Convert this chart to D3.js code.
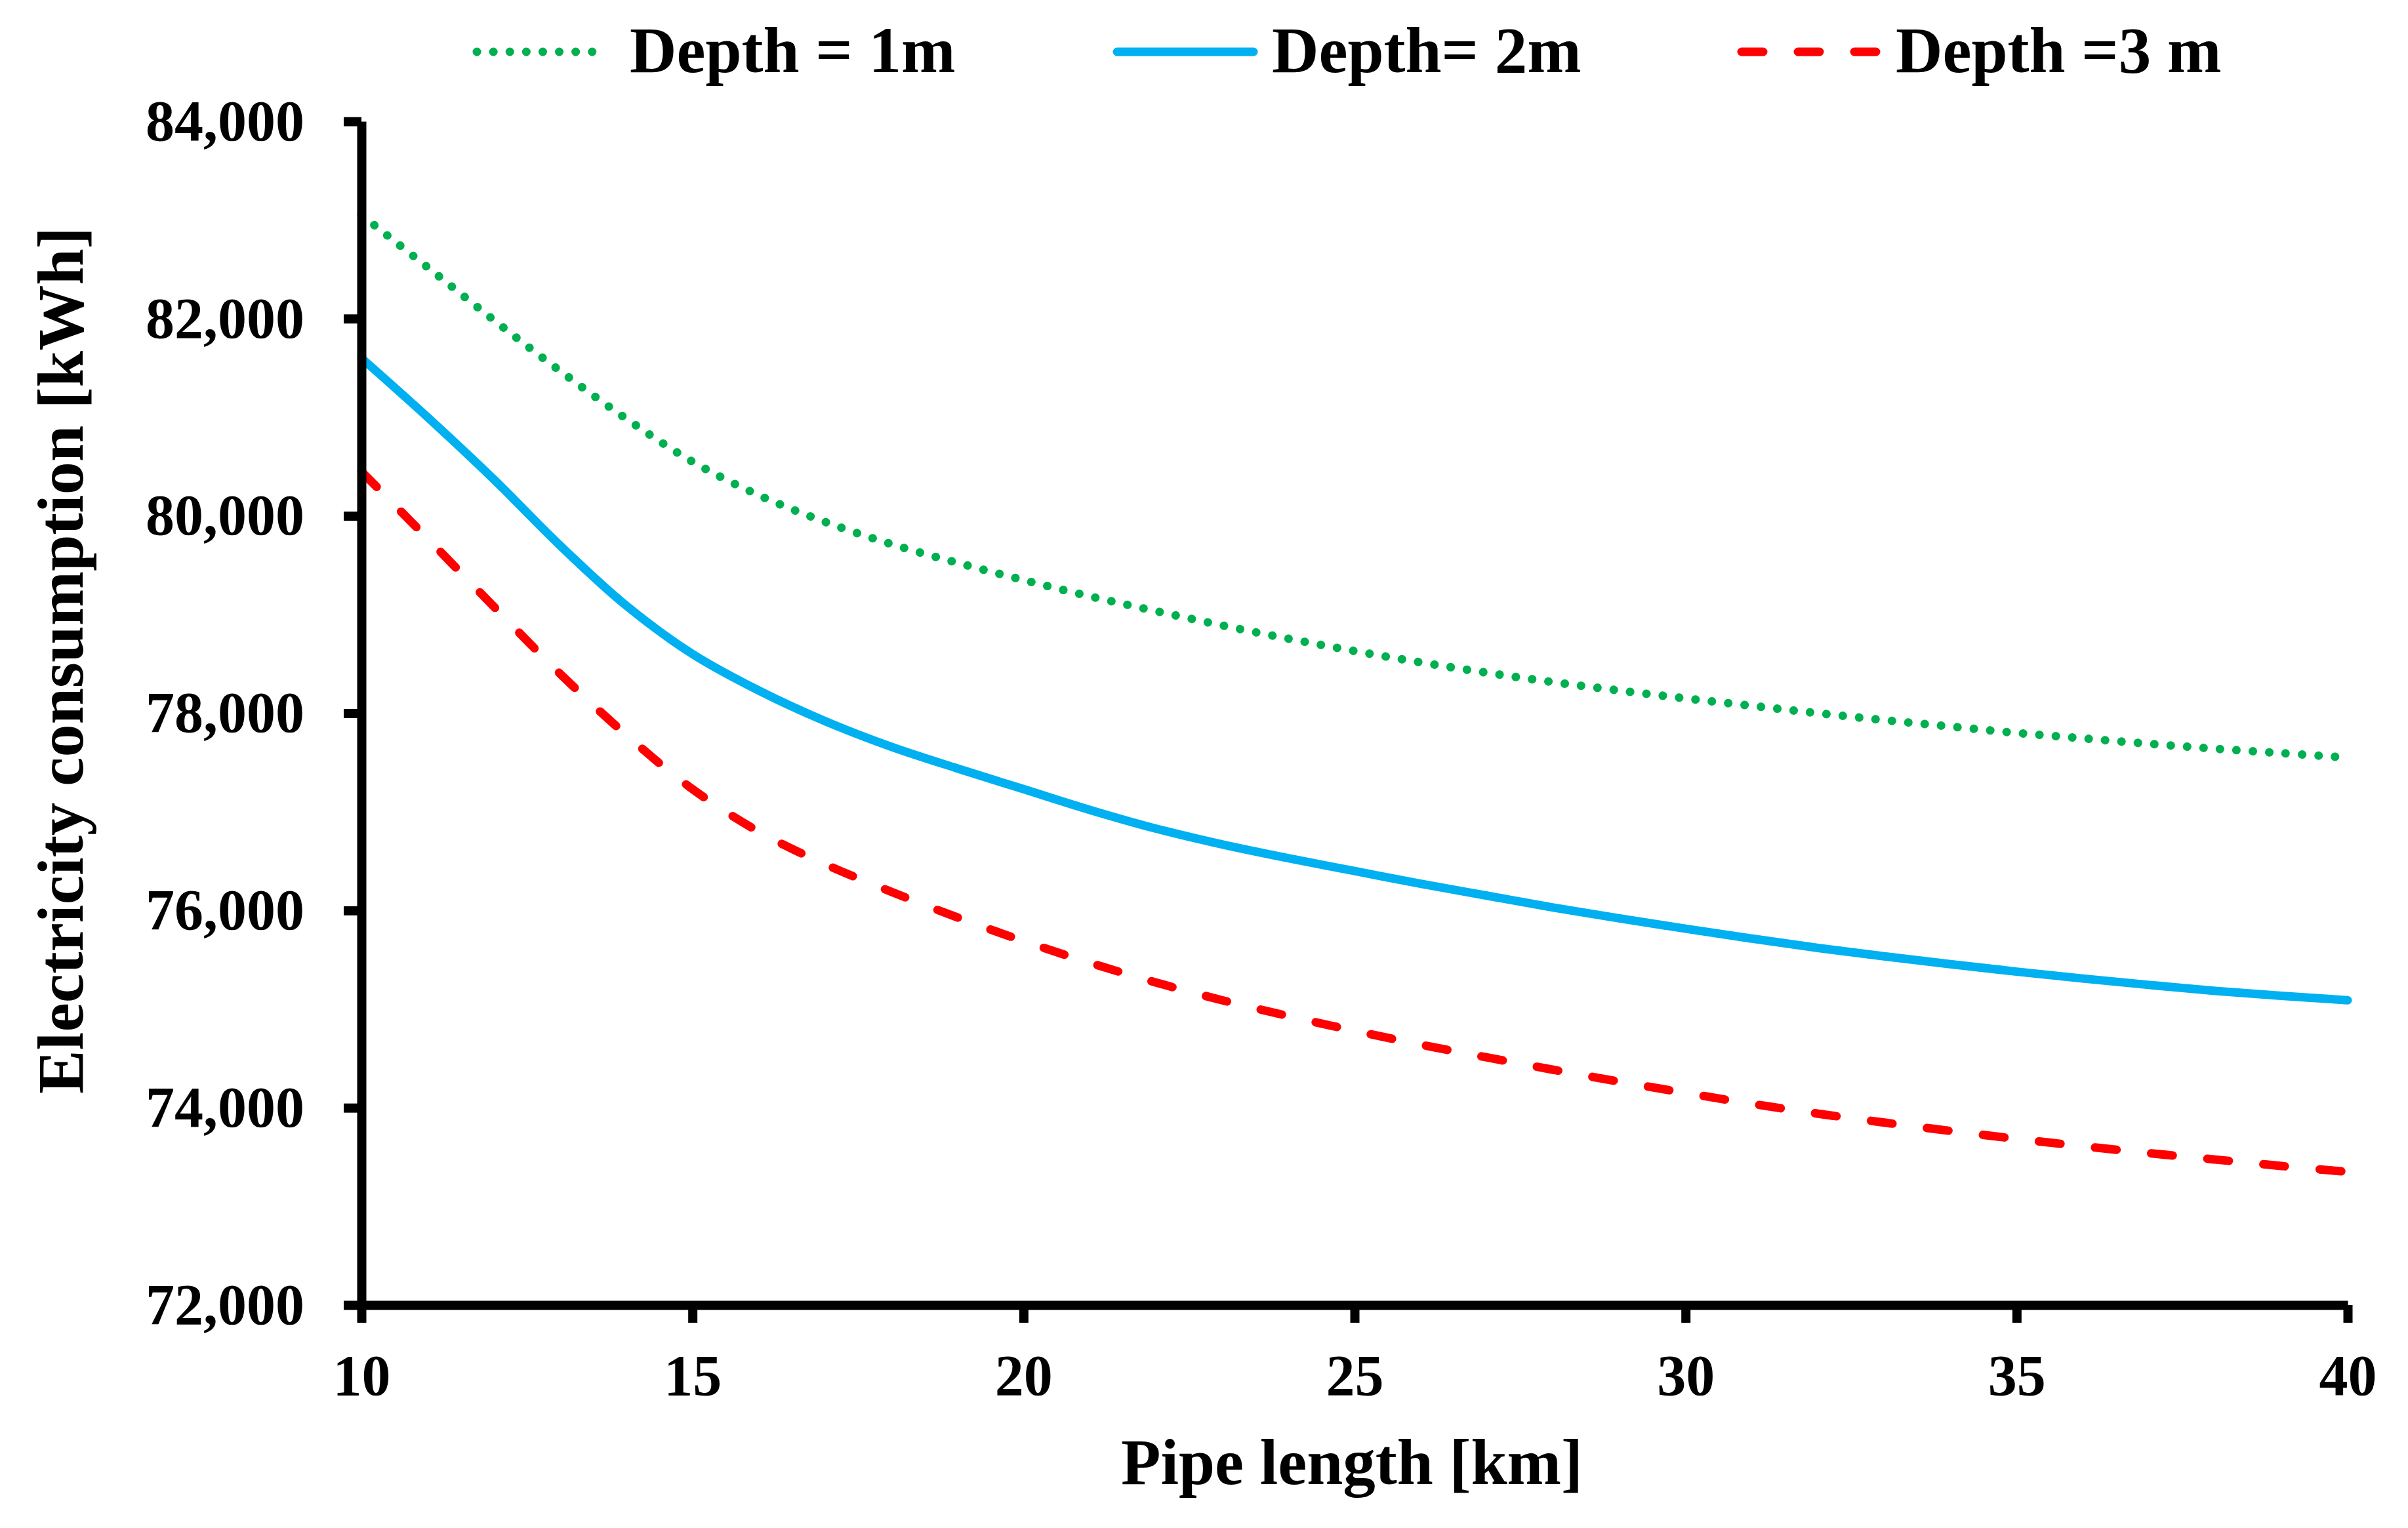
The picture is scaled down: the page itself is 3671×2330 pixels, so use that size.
<!DOCTYPE html>
<html>
<head>
<meta charset="utf-8">
<script src="https://cdn.jsdelivr.net/npm/d3@7/dist/d3.min.js"></script>
<style>
  body { margin: 0; background: #fff; }
  svg { display: block; }
  text { font-family: "Liberation Serif", "Times New Roman", serif; font-weight: bold; fill: #000; }
</style>
</head>
<body>
<div id="chart"></div>
<script>
// ---- data ----
const lengthKm = [10, 11, 12, 13, 14, 15, 16, 17, 18, 19, 20, 21, 22, 23, 24, 25,
                  26, 27, 28, 29, 30, 31, 32, 33, 34, 35, 36, 37, 38, 39, 40];

const depth1 = [83050, 82520, 81985, 81470, 80985, 80550, 80210, 79940, 79715, 79525, 79350,
                79185, 79035, 78890, 78755, 78630, 78515, 78410, 78315, 78230, 78150,
                78075, 78000, 77930, 77865, 77800, 77745, 77690, 77640, 77595, 77550];

const depth2 = [81600, 81000, 80370, 79700, 79090, 78600, 78230, 77920, 77660, 77440, 77230,
                77020, 76830, 76670, 76530, 76400, 76270, 76150, 76030, 75920, 75815,
                75715, 75620, 75535, 75455, 75380, 75310, 75245, 75185, 75135, 75090];

const depth3 = [80450, 79770, 79080, 78400, 77780, 77230, 76800, 76470, 76190, 75930, 75690,
                75470, 75270, 75090, 74930, 74780, 74640, 74510, 74385, 74265, 74150,
                74040, 73940, 73850, 73765, 73685, 73610, 73540, 73475, 73410, 73350];

const seriesNames = ["Depth = 1m", "Depth= 2m", "Depth =3 m"];
const xTicks = [10, 15, 20, 25, 30, 35, 40];
const yTicks = [72000, 74000, 76000, 78000, 80000, 82000, 84000];

// ---- styles per series ----
const seriesStyle = [
  { color: "#00B050", dash: "0.1 25" },
  { color: "#00B0F0", dash: null },
  { color: "#FF0000", dash: "33 53" }
];

// ---- layout ----
const W = 3671, H = 2330;
const plot = { left: 551, right: 3579, top: 185, bottom: 1990 };

const svg = d3.select("#chart").append("svg")
  .attr("width", W)
  .attr("height", H)
  .attr("viewBox", `0 0 ${W} ${H}`);

svg.append("rect").attr("width", W).attr("height", H).attr("fill", "#fff");

const x = d3.scaleLinear().domain([10, 40]).range([plot.left, plot.right]);
const y = d3.scaleLinear().domain([72000, 84000]).range([plot.bottom, plot.top]);

// ---- lines ----
const allSeries = [depth1, depth2, depth3];
const line = d3.line()
  .x((d, i) => x(lengthKm[i]))
  .y(d => y(d))
  .curve(d3.curveCatmullRom.alpha(0.5));

svg.append("g").selectAll("path")
  .data(allSeries)
  .enter()
  .append("path")
  .attr("d", d => line(d))
  .attr("fill", "none")
  .attr("stroke", (d, i) => seriesStyle[i].color)
  .attr("stroke-width", 13)
  .attr("stroke-linecap", "round")
  .attr("stroke-linejoin", "round")
  .attr("stroke-dasharray", (d, i) => seriesStyle[i].dash);

// ---- axes ----
const tickLen = 27;
const fmt = d3.format(",");

const yAxis = svg.append("g")
  .attr("transform", `translate(${plot.left},0)`)
  .call(d3.axisLeft(y).tickValues(yTicks).tickFormat(fmt)
    .tickSize(tickLen).tickSizeOuter(0).tickPadding(60));

const xAxis = svg.append("g")
  .attr("transform", `translate(0,${plot.bottom})`)
  .call(d3.axisBottom(x).tickValues(xTicks).tickFormat(d3.format("d"))
    .tickSize(tickLen).tickSizeOuter(0));

[xAxis, yAxis].forEach(g => {
  g.select(".domain").attr("stroke", "#000").attr("stroke-width", 14);
  g.selectAll(".tick line").attr("stroke", "#000").attr("stroke-width", 14);
  g.selectAll(".tick text")
    .style("font-family", '"Liberation Serif", "Times New Roman", serif')
    .style("font-weight", "bold")
    .style("font-size", "88px")
    .attr("fill", "#000");
});

xAxis.selectAll(".tick text").attr("y", 137).attr("dy", null);

// ---- axis titles ----
svg.append("text")
  .attr("x", 2061)
  .attr("y", 2263)
  .attr("text-anchor", "middle")
  .style("font-size", "99px")
  .text("Pipe length [km]");

svg.append("text")
  .attr("transform", "translate(126,1007) rotate(-90)")
  .attr("text-anchor", "middle")
  .style("font-size", "100px")
  .text("Electricity consumption [kWh]");

// ---- legend ----
const legendPos = [
  { x1: 727, x2: 924, tx: 960 },
  { x1: 1703, x2: 1911, tx: 1939 },
  { x1: 2655, x2: 2863, tx: 2890 }
];
const legendY = 79;

const legend = svg.append("g").selectAll("g")
  .data(seriesNames)
  .enter()
  .append("g");

legend.append("line")
  .attr("x1", (d, i) => legendPos[i].x1)
  .attr("x2", (d, i) => legendPos[i].x2)
  .attr("y1", legendY)
  .attr("y2", legendY)
  .attr("stroke", (d, i) => seriesStyle[i].color)
  .attr("stroke-width", 13)
  .attr("stroke-linecap", "round")
  .attr("stroke-dasharray", (d, i) => seriesStyle[i].dash);

legend.append("text")
  .attr("x", (d, i) => legendPos[i].tx)
  .attr("y", 110)
  .style("font-size", "99px")
  .style("white-space", "pre")
  .attr("xml:space", "preserve")
  .text(d => d);
</script>
</body>
</html>
